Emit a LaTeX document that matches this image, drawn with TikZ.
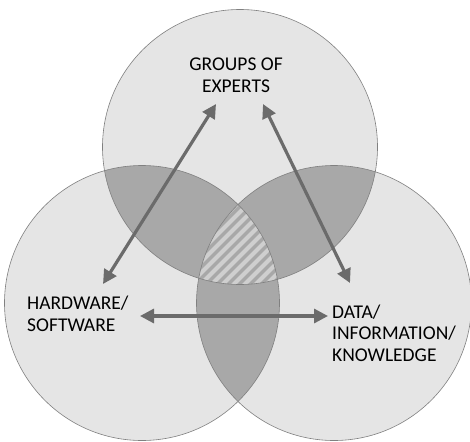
\documentclass[tikz,border=0pt]{standalone}
\usepackage{fontspec}
\setmainfont{Carlito}
\usepackage{tikz}
\usetikzlibrary{arrows.meta}
\definecolor{lightgray}{gray}{0.9}
\definecolor{lensgray}{gray}{0.66}
\definecolor{stripegray}{gray}{0.81}
\definecolor{rimgray}{gray}{0.5}
\definecolor{arrowgray}{gray}{0.42}

\tikzset{
	setlabel/.style={inner sep=0pt,font=\fontsize{19.5}{21.7}\selectfont},
	link/.style={{Triangle[length=14pt,width=14pt]}-{Triangle[length=14pt,width=14pt]},line width=3.2pt,arrowgray,shorten <=0pt,shorten >=0pt}
}

\begin{document}
\begin{tikzpicture}[x=1pt,y=-1pt]
	\useasboundingbox (0,0) rectangle (470,441);
	\def\topset{(240,147) circle [radius=137.5pt]}
	\def\leftset{(142,303) circle [radius=137.5pt]}
	\def\rightset{(334,303) circle [radius=137.5pt]}

	%circles
	\fill[lightgray] \topset;
	\fill[lightgray] \leftset;
	\fill[lightgray] \rightset;

	%pairwise overlaps
	\begin{scope}
		\clip \topset;
		\fill[lensgray] \leftset;
		\fill[lensgray] \rightset;
	\end{scope}
	\begin{scope}
		\clip \leftset;
		\fill[lensgray] \rightset;
	\end{scope}

	%hatched centre
	\begin{scope}
		\clip \topset;
		\clip \leftset;
		\clip \rightset;
		\fill[lensgray] (150,180) rectangle (330,300);
		\foreach \i in {0,11,...,330}
			\draw[stripegray,line width=4pt] (\i,320) -- ++(200,-200);
	\end{scope}

	%outlines
	\draw[rimgray,semithick] \topset;
	\draw[rimgray,semithick] \leftset;
	\draw[rimgray,semithick] \rightset;

	%labels
	\node[setlabel,align=center] (experts) at (236,75) {GROUPS OF\\EXPERTS};
	\node[setlabel,align=left,anchor=west] (hardware) at (27,314) {HARDWARE/\\SOFTWARE};
	\node[setlabel,align=left,anchor=west] (data) at (332,333) {DATA/\\INFORMATION/\\KNOWLEDGE};

	%arrow ends
	\coordinate (expertsL) at (216,104);
	\coordinate (expertsR) at (263,104);
	\coordinate (hardwareT) at (103,284);
	\coordinate (hardwareR) at (140,316);
	\coordinate (dataT) at (350,283);
	\coordinate (dataL) at (328,316);

	%arrows
	\draw[link] (hardwareT) -- (expertsL);	%hardware--experts
	\draw[link] (expertsR) -- (dataT);		%experts--data
	\draw[link] (hardwareR) -- (dataL);		%hardware--data
\end{tikzpicture}
\end{document}
